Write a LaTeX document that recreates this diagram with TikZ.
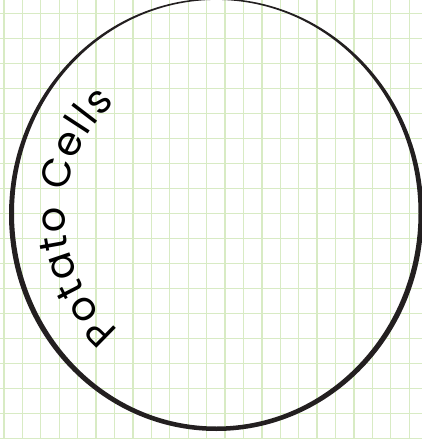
\documentclass[tikz,border=0pt]{standalone}
\usepackage{fontspec}
\newfontfamily\handfont{Poppins}
\usetikzlibrary{decorations.text}
\definecolor{gridgreen}{RGB}{216,235,196}
\definecolor{inkblack}{RGB}{35,31,32}
\tikzset{
  gridline/.style={draw=gridgreen, line width=1.3pt},
  rimfill/.style={fill=inkblack, even odd rule},
}
\begin{document}
\begin{tikzpicture}[x=1pt,y=-1pt]
  \useasboundingbox (0,0) rectangle (422,439);
  \clip (0,0) rectangle (422,439);
  \fill[white] (0,0) rectangle (422,439);
  % grid
  \foreach \k in {0,...,22} {
    \draw[gridline] ({4+18.42*\k},0) -- ({4+18.42*\k},439);
  }
  \foreach \k in {0,...,17} {
    \draw[gridline] (0,{13.3+25*\k}) -- (422,{13.3+25*\k});
  }
  % hand-drawn circle (variable width rim)
  \coordinate (c) at (216.25,214.7);
  \coordinate (ci) at (216.25,213.2);
  \fill[rimfill] (c) ellipse [x radius=207.25pt, y radius=216.3pt]
                 (ci) ellipse [x radius=202.25pt, y radius=213.3pt];
  % curved label
  \path[decorate, decoration={text along path,
      text={|\handfont\fontsize{40}{40}\selectfont|Potato Cells},
      text align=fit to path}]
    (c) ++(230:151pt) arc[start angle=230, end angle=132, radius=151pt];
\end{tikzpicture}
\end{document}
